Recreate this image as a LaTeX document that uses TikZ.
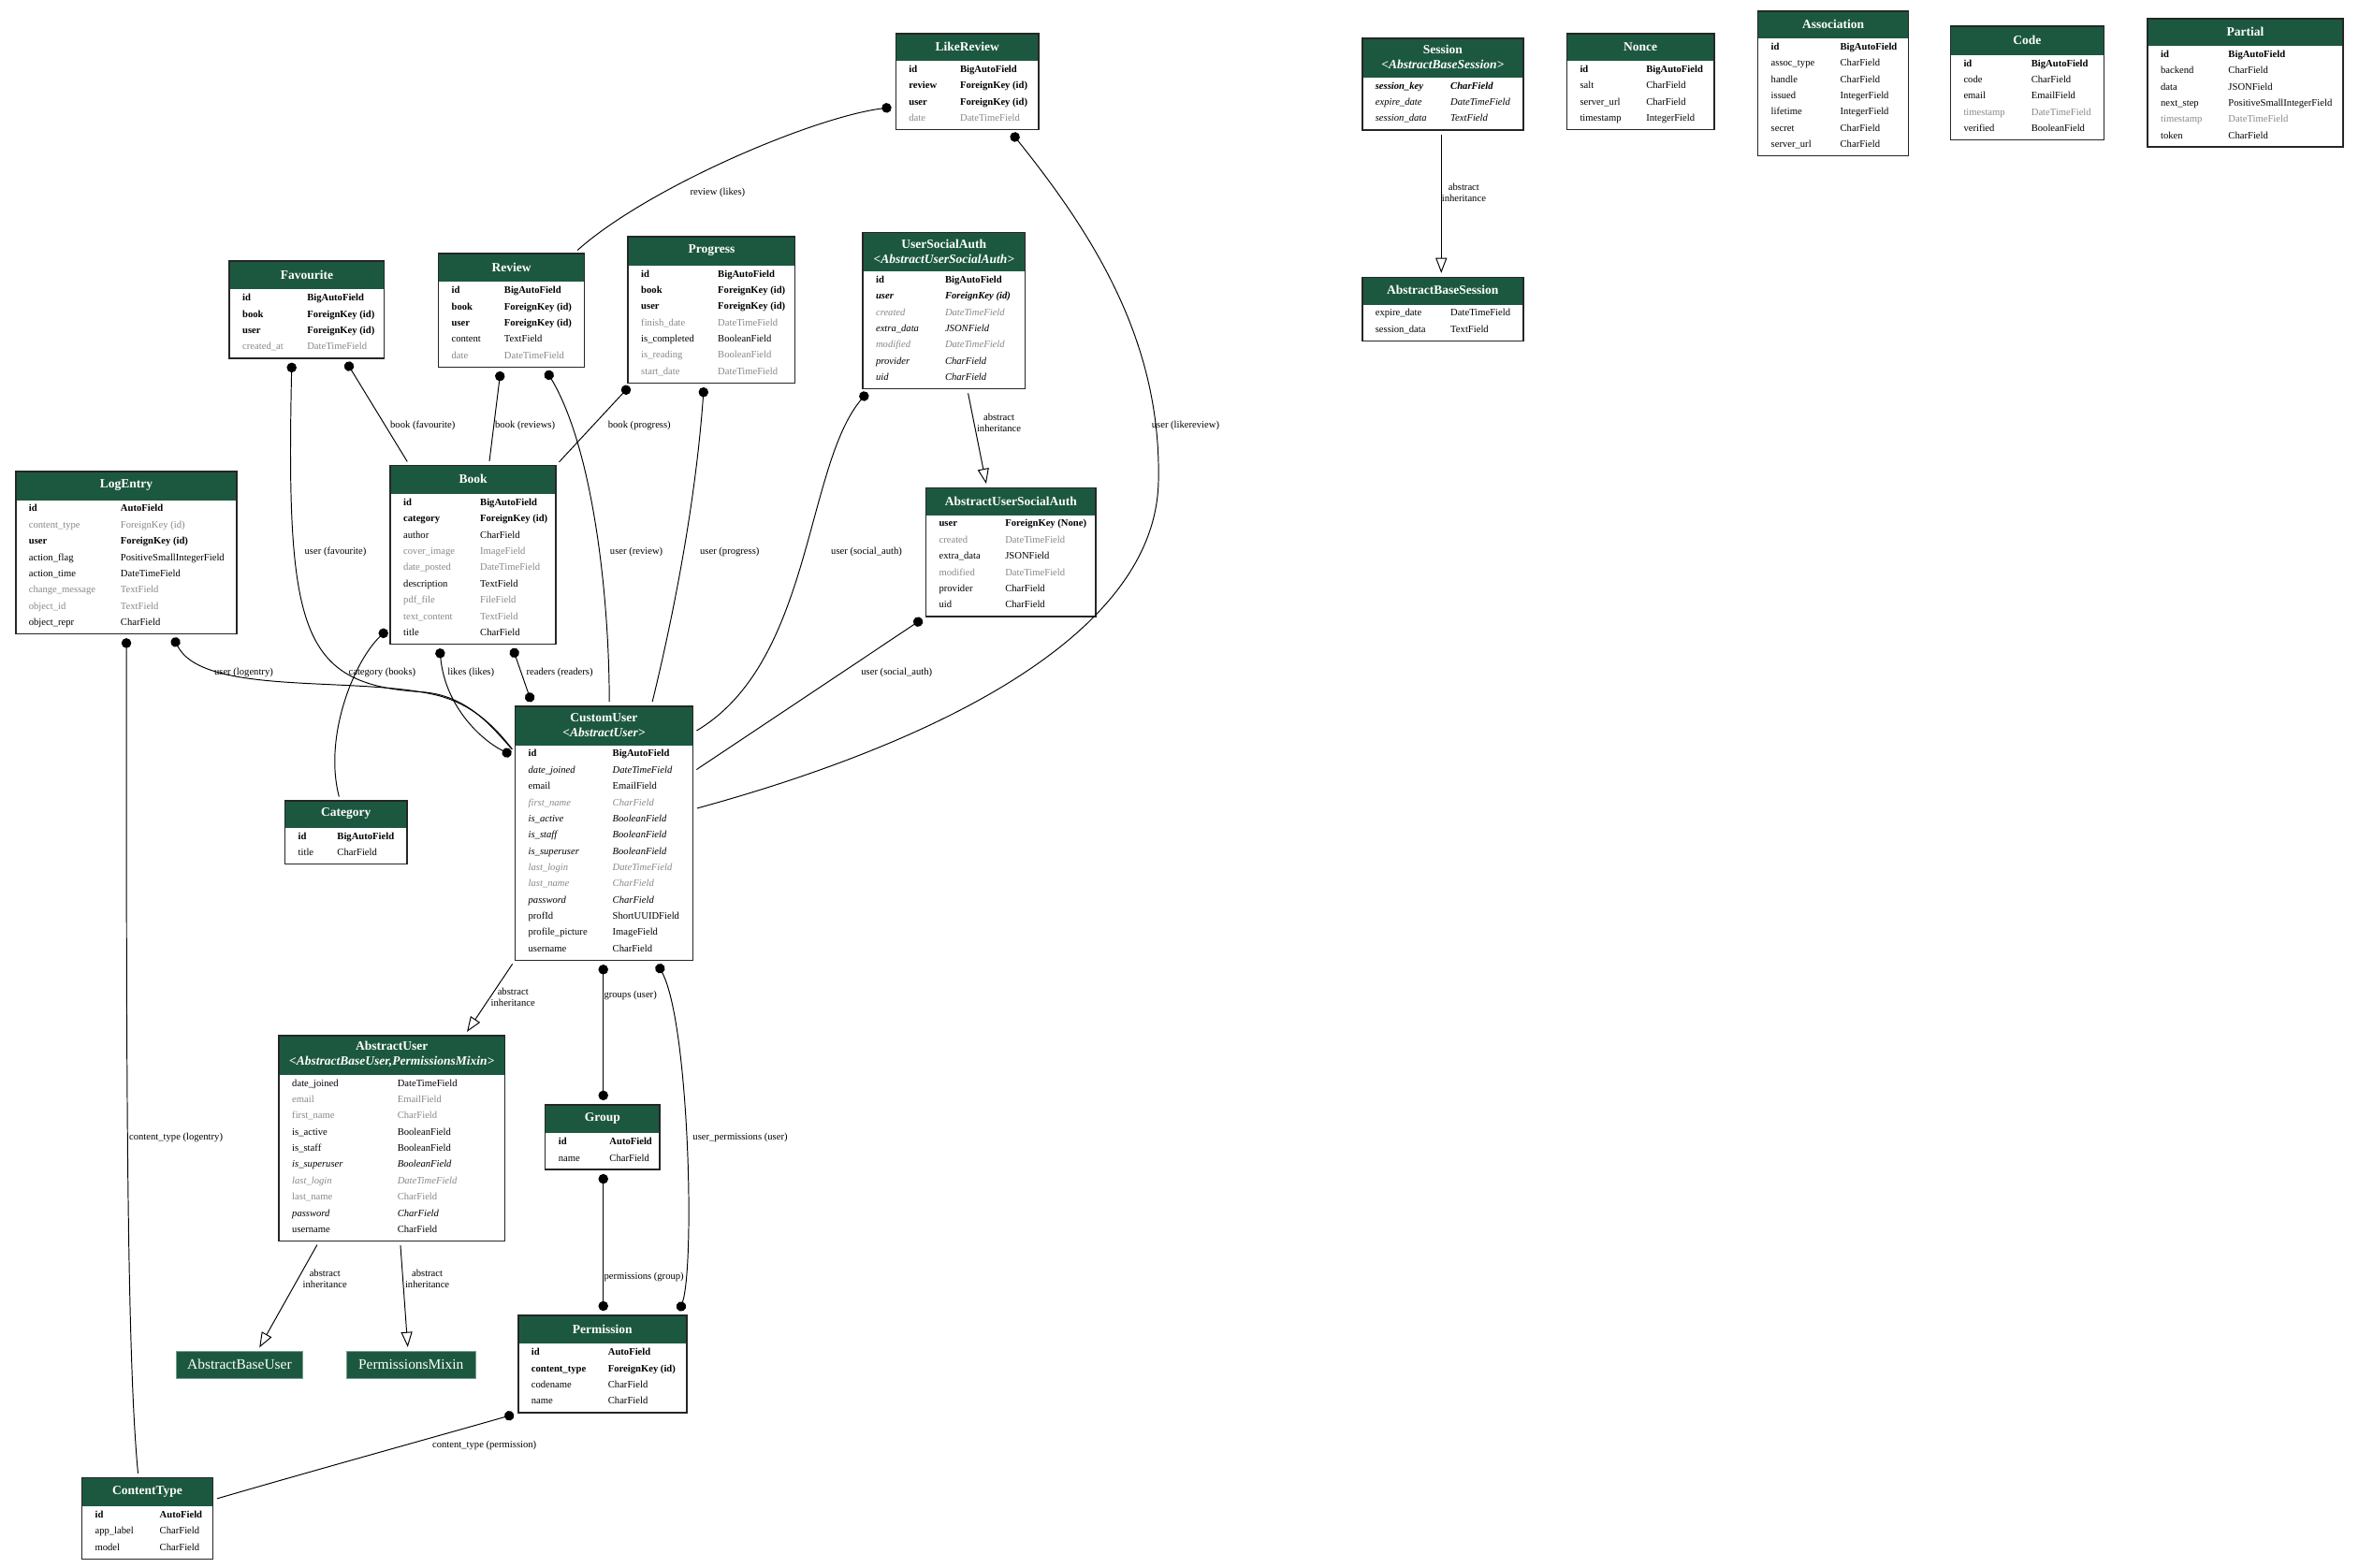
\documentclass[tikz,border=0pt]{standalone}
\usepackage{fontspec}
\setmainfont{Liberation Serif}
\usepackage{tikz}
\usetikzlibrary{arrows.meta}

\definecolor{hdr}{RGB}{28,88,64}
\definecolor{fgray}{RGB}{135,135,135}

% field rows: bold, normal, gray, italic, bold italic, gray italic
\newcommand{\fldb}[2]{\textbf{#1}&\textbf{#2}\\}
\newcommand{\fldn}[2]{#1&#2\\}
\newcommand{\fldg}[2]{\textcolor{fgray}{#1}&\textcolor{fgray}{#2}\\}
\newcommand{\fldi}[2]{\textit{#1}&\textit{#2}\\}
\newcommand{\fldbi}[2]{\textbf{\textit{#1}}&\textbf{\textit{#2}}\\}
\newcommand{\fldgi}[2]{\textcolor{fgray}{\textit{#1}}&\textcolor{fgray}{\textit{#2}}\\}

% name, x, y, width, rows, header height, name column, title, fields
\newcommand{\model}[9]{%
  \pgfmathsetmacro\mdlh{#6+#5*10.8+2.5}%
  \pgfmathsetmacro\mdlt{#6/2}%
  \node[modelbox,minimum width=#4pt,minimum height=\mdlh pt,
    path picture={\fill[hdr] (path picture bounding box.north west) rectangle ([yshift=-#6pt]path picture bounding box.north east);}]
    (#1) at (#2,#3) {};
  \node[hdrtxt] (#1-t) at ([yshift=-\mdlt pt]#1.north) {#8};
  \node[fldtxt] (#1-f) at ([shift={(9,#6+0.4)}]#1.north west) {\begin{tabular}{@{}p{#7pt}@{}l@{}}#9\end{tabular}};
}

\begin{document}
\begin{tikzpicture}[x=1pt,y=-1pt,
modelbox/.style={draw=black!85,line width=0.9pt,anchor=north west,inner sep=0},
hdrtxt/.style={text=white,font=\fontsize{8.4}{10}\selectfont\bfseries,align=center,inner sep=0},
fldtxt/.style={anchor=north west,inner sep=0,font=\fontsize{6.6}{10.8}\selectfont},
basebox/.style={anchor=north west,fill=hdr,draw=hdr!60!white,text=white,minimum height=18pt,inner sep=0,font=\fontsize{9.6}{11}\selectfont},
lbl/.style={font=\fontsize{6.6}{7.6}\selectfont,align=center,inner sep=0},
rel/.style={draw,line width=0.6pt,shorten <=2.5pt,shorten >=2.5pt},
fk/.style={rel,{Circle[length=6.5pt]}-},
m2m/.style={rel,{Circle[length=6.5pt]}-{Circle[length=6.5pt]}},
inh/.style={rel,-{Triangle[open,length=10pt,width=7.5pt]}}]
\useasboundingbox (0,0) rectangle (1568,1042);

% top row
\model{likereview}{595}{22}{95}{4}{18}{34}{LikeReview}{\fldb{id}{BigAutoField}\fldb{review}{ForeignKey (id)}\fldb{user}{ForeignKey (id)}\fldg{date}{DateTimeField}}
\model{session}{905}{25}{107}{3}{26}{50}{Session\\\textit{\textless AbstractBaseSession\textgreater}}{\fldbi{session\_key}{CharField}\fldi{expire\_date}{DateTimeField}\fldi{session\_data}{TextField}}
\model{nonce}{1041}{22}{98}{4}{18}{44}{Nonce}{\fldb{id}{BigAutoField}\fldn{salt}{CharField}\fldn{server\_url}{CharField}\fldn{timestamp}{IntegerField}}
\model{association}{1168}{7}{100}{7}{18}{46}{Association}{\fldb{id}{BigAutoField}\fldn{assoc\_type}{CharField}\fldn{handle}{CharField}\fldn{issued}{IntegerField}\fldn{lifetime}{IntegerField}\fldn{secret}{CharField}\fldn{server\_url}{CharField}}
\model{code}{1296}{17}{102}{5}{19}{45}{Code}{\fldb{id}{BigAutoField}\fldn{code}{CharField}\fldn{email}{EmailField}\fldg{timestamp}{DateTimeField}\fldn{verified}{BooleanField}}
\model{partial}{1427}{12}{130}{6}{18}{45}{Partial}{\fldb{id}{BigAutoField}\fldn{backend}{CharField}\fldn{data}{JSONField}\fldn{next\_step}{PositiveSmallIntegerField}\fldg{timestamp}{DateTimeField}\fldn{token}{CharField}}

% second row
\model{favourite}{152}{173}{103}{4}{19}{43}{Favourite}{\fldb{id}{BigAutoField}\fldb{book}{ForeignKey (id)}\fldb{user}{ForeignKey (id)}\fldg{created\_at}{DateTimeField}}
\model{review}{291}{168}{97}{5}{19}{35}{Review}{\fldb{id}{BigAutoField}\fldb{book}{ForeignKey (id)}\fldb{user}{ForeignKey (id)}\fldn{content}{TextField}\fldg{date}{DateTimeField}}
\model{progress}{417}{157}{111}{7}{19}{51}{Progress}{\fldb{id}{BigAutoField}\fldb{book}{ForeignKey (id)}\fldb{user}{ForeignKey (id)}\fldg{finish\_date}{DateTimeField}\fldn{is\_completed}{BooleanField}\fldg{is\_reading}{BooleanField}\fldg{start\_date}{DateTimeField}}
\model{usersocialauth}{573}{154}{108}{7}{26}{46}{UserSocialAuth\\\textit{\textless AbstractUserSocialAuth\textgreater}}{\fldb{id}{BigAutoField}\fldbi{user}{ForeignKey (id)}\fldgi{created}{DateTimeField}\fldi{extra\_data}{JSONField}\fldgi{modified}{DateTimeField}\fldi{provider}{CharField}\fldi{uid}{CharField}}
\model{abstractbasesession}{905}{184}{107}{2}{18}{50}{AbstractBaseSession}{\fldn{expire\_date}{DateTimeField}\fldn{session\_data}{TextField}}

% middle
\model{logentry}{10}{313}{147}{8}{19}{61}{LogEntry}{\fldb{id}{AutoField}\fldg{content\_type}{ForeignKey (id)}\fldb{user}{ForeignKey (id)}\fldn{action\_flag}{PositiveSmallIntegerField}\fldn{action\_time}{DateTimeField}\fldg{change\_message}{TextField}\fldg{object\_id}{TextField}\fldn{object\_repr}{CharField}}
\model{book}{259}{309}{110}{9}{19}{51}{Book}{\fldb{id}{BigAutoField}\fldb{category}{ForeignKey (id)}\fldn{author}{CharField}\fldg{cover\_image}{ImageField}\fldg{date\_posted}{DateTimeField}\fldn{description}{TextField}\fldg{pdf\_file}{FileField}\fldg{text\_content}{TextField}\fldn{title}{CharField}}
\model{abstractusersocialauth}{615}{324}{113}{6}{18}{44}{AbstractUserSocialAuth}{\fldb{user}{ForeignKey (None)}\fldg{created}{DateTimeField}\fldn{extra\_data}{JSONField}\fldg{modified}{DateTimeField}\fldn{provider}{CharField}\fldn{uid}{CharField}}
\model{customuser}{342}{469}{118}{13}{26}{56}{CustomUser\\\textit{\textless AbstractUser\textgreater}}{\fldb{id}{BigAutoField}\fldi{date\_joined}{DateTimeField}\fldn{email}{EmailField}\fldgi{first\_name}{CharField}\fldi{is\_active}{BooleanField}\fldi{is\_staff}{BooleanField}\fldi{is\_superuser}{BooleanField}\fldgi{last\_login}{DateTimeField}\fldgi{last\_name}{CharField}\fldi{password}{CharField}\fldn{profId}{ShortUUIDField}\fldn{profile\_picture}{ImageField}\fldn{username}{CharField}}
\model{category}{189}{532}{81}{2}{18}{26}{Category}{\fldb{id}{BigAutoField}\fldn{title}{CharField}}

% bottom
\model{abstractuser}{185}{688}{150}{10}{26}{70}{AbstractUser\\\textit{\textless AbstractBaseUser,PermissionsMixin\textgreater}}{\fldn{date\_joined}{DateTimeField}\fldg{email}{EmailField}\fldg{first\_name}{CharField}\fldn{is\_active}{BooleanField}\fldn{is\_staff}{BooleanField}\fldi{is\_superuser}{BooleanField}\fldgi{last\_login}{DateTimeField}\fldg{last\_name}{CharField}\fldi{password}{CharField}\fldn{username}{CharField}}
\model{group}{362}{734}{76}{2}{19}{34}{Group}{\fldb{id}{AutoField}\fldn{name}{CharField}}
\model{permission}{344}{874}{112}{4}{19}{51}{Permission}{\fldb{id}{AutoField}\fldb{content\_type}{ForeignKey (id)}\fldn{codename}{CharField}\fldn{name}{CharField}}
\model{contenttype}{54}{982}{87}{3}{19}{43}{ContentType}{\fldb{id}{AutoField}\fldn{app\_label}{CharField}\fldn{model}{CharField}}
\node[basebox,minimum width=84pt] (abstractbaseuser) at (117,898) {AbstractBaseUser};
\node[basebox,minimum width=86pt] (permissionsmixin) at (230,898) {PermissionsMixin};

% relations
\draw[fk] ([shift={(0,49)}]likereview.north west) .. controls (540,78) and (430,125) .. ([shift={(91,0)}]review.north west) node[lbl] (lbl-likes) at (477,128) {review (likes)};
\draw[fk] ([shift={(76,0)}]likereview.south west) .. controls (730,160) and (772,230) .. (770,320) .. controls (768,430) and (600,500) .. ([shift={(0,69)}]customuser.north east) node[lbl] (lbl-likereview) at (788,283) {user (likereview)};
\draw[fk] ([shift={(77,0)}]favourite.south west) -- ([shift={(13,0)}]book.north west) node[lbl] (lbl-favbook) at (281,283) {book (favourite)};
\draw[fk] ([shift={(42,0)}]favourite.south west) .. controls (190,420) and (200,455) .. (280,460) .. controls (310,462) and (326,482) .. ([shift={(0,31)}]customuser.north west) node[lbl] (lbl-favuser) at (223,367) {user (favourite)};
\draw[fk] ([shift={(104,0)}]logentry.south west) .. controls (135,462) and (230,450) .. (285,461) .. controls (312,466) and (328,482) .. ([shift={(0,31)}]customuser.north west) node[lbl] (lbl-loguser) at (162,447) {user (logentry)};
\draw[fk] ([shift={(74,0)}]logentry.south west) .. controls (84,700) and (84,900) .. ([shift={(38,0)}]contenttype.north west) node[lbl] (lbl-logct) at (117,756) {content\_type (logentry)};
\draw[fk] ([shift={(0,108)}]book.north west) .. controls (235,440) and (215,490) .. ([shift={(37,0)}]category.north west) node[lbl] (lbl-books) at (254,447) {category (books)};
\draw[m2m] ([shift={(33,0)}]book.south west) .. controls (296,470) and (320,492) .. ([shift={(0,34)}]customuser.north west) node[lbl] (lbl-likes2) at (313,447) {likes (likes)};
\draw[m2m] ([shift={(81,0)}]book.south west) -- ([shift={(12,0)}]customuser.north west) node[lbl] (lbl-readers) at (372,447) {readers (readers)};
\draw[fk] ([shift={(42,0)}]review.south west) -- ([shift={(66,0)}]book.north west) node[lbl] (lbl-reviews) at (349,283) {book (reviews)};
\draw[fk] ([shift={(71,0)}]review.south west) .. controls (395,300) and (405,400) .. ([shift={(63,0)}]customuser.north west) node[lbl] (lbl-revuser) at (423,367) {user (review)};
\draw[fk] ([shift={(3,0)}]progress.south west) -- (book.north east) node[lbl] (lbl-progbook) at (425,283) {book (progress)};
\draw[fk] ([shift={(51,0)}]progress.south west) .. controls (462,340) and (445,420) .. ([shift={(91,0)}]customuser.north west) node[lbl] (lbl-proguser) at (485,367) {user (progress)};
\draw[fk] ([shift={(5,0)}]usersocialauth.south west) .. controls (535,310) and (540,440) .. ([shift={(0,18)}]customuser.north east) node[lbl] (lbl-social1) at (576,367) {user (social\_auth)};
\draw[inh] ([shift={(70,0)}]usersocialauth.south west) -- ([shift={(41,0)}]abstractusersocialauth.north west) node[lbl] (lbl-inh1) at (664,281) {abstract\\inheritance};
\draw[fk] (abstractusersocialauth.south west) -- ([shift={(0,44)}]customuser.north east) node[lbl] (lbl-social2) at (596,447) {user (social\_auth)};
\draw[inh] ([shift={(53,0)}]session.south west) -- ([shift={(53,0)}]abstractbasesession.north west) node[lbl] (lbl-inh2) at (973,128) {abstract\\inheritance};
\draw[inh] (customuser.south west) -- ([shift={(124,0)}]abstractuser.north west) node[lbl] (lbl-inh3) at (341,663) {abstract\\inheritance};
\draw[m2m] ([shift={(59,0)}]customuser.south west) -- ([shift={(39,0)}]group.north west) node[lbl] (lbl-groups) at (419,662) {groups (user)};
\draw[m2m] ([shift={(94,0)}]customuser.south west) .. controls (458,680) and (462,840) .. ([shift={(107,0)}]permission.north west) node[lbl] (lbl-userperm) at (492,756) {user\_permissions (user)};
\draw[m2m] ([shift={(39,0)}]group.south west) -- ([shift={(57,0)}]permission.north west) node[lbl] (lbl-groupperm) at (428,849) {permissions (group)};
\draw[inh] ([shift={(27,0)}]abstractuser.south west) -- ([shift={(12,0)}]abstractbaseuser.north) node[lbl] (lbl-inh4) at (216,850) {abstract\\inheritance};
\draw[inh] ([shift={(81,0)}]abstractuser.south west) -- ([shift={(-2,0)}]permissionsmixin.north) node[lbl] (lbl-inh5) at (284,850) {abstract\\inheritance};
\draw[fk] (permission.south west) .. controls (290,955) and (200,980) .. ([shift={(0,15)}]contenttype.north east) node[lbl] (lbl-permct) at (322,961) {content\_type (permission)};
\end{tikzpicture}
\end{document}
